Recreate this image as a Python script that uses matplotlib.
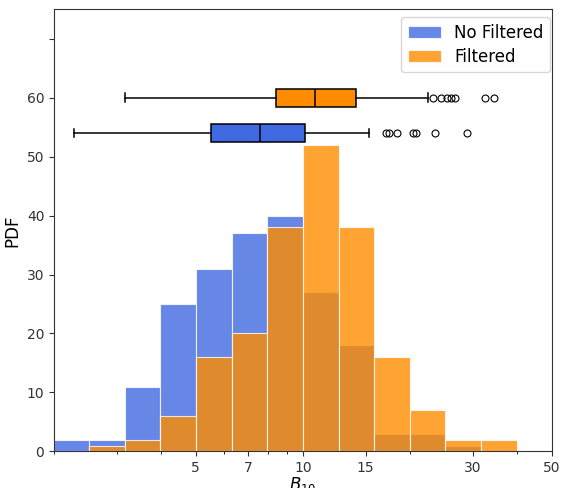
import numpy as np
import matplotlib
matplotlib.use("Agg")
import matplotlib.pyplot as plt
from matplotlib.ticker import NullFormatter

# log-spaced bin edges (0.1 dex)
bin_edges = [2.0, 2.51, 3.16, 3.98, 5.01, 6.31, 7.94, 10.0, 12.59, 15.85, 19.95, 25.12, 31.62, 39.81]
counts_nofilt = [2, 2, 11, 25, 31, 37, 40, 27, 18, 3, 3, 1, 0]
counts_filt = [0, 1, 2, 6, 16, 20, 38, 52, 38, 16, 7, 2, 2]

# box plot summaries
box_nofilt = dict(whislo=2.28, q1=5.52, med=7.55, q3=10.13, whishi=15.3,
                  fliers=[17.1, 17.4, 18.35, 20.4, 20.8, 23.5, 28.9])
box_filt = dict(whislo=3.16, q1=8.42, med=10.83, q3=14.05, whishi=22.4,
                fliers=[23.2, 24.4, 25.3, 25.96, 26.8, 32.4, 34.4])
box_pos = [54, 60]

xticks = [5, 7, 10, 15, 30, 50]
yticks = [0, 10, 20, 30, 40, 50, 60, 70]
ytick_labels = ['0', '10', '20', '30', '40', '50', '60', '']

fig = plt.figure(figsize=(5.69, 4.88), dpi=100)
ax = fig.add_axes([0.095, 0.075, 0.875, 0.906])

mids = np.sqrt(np.array(bin_edges[:-1]) * np.array(bin_edges[1:]))
ax.hist(mids, bins=bin_edges, weights=counts_nofilt, color='royalblue', alpha=0.8,
        edgecolor='white', linewidth=0.8, label='No Filtered')
ax.hist(mids, bins=bin_edges, weights=counts_filt, color='darkorange', alpha=0.8,
        edgecolor='white', linewidth=0.8, label='Filtered')

bp = ax.bxp([box_nofilt, box_filt], positions=box_pos, widths=3, vert=False,
            patch_artist=True, manage_ticks=False,
            medianprops=dict(color='black', linewidth=1.1),
            whiskerprops=dict(color='black', linewidth=1.1),
            capprops=dict(color='black', linewidth=1.1),
            flierprops=dict(marker='o', markerfacecolor='none', markeredgecolor='black',
                            markersize=5, markeredgewidth=0.8))
for patch, c in zip(bp['boxes'], ['royalblue', 'darkorange']):
    patch.set_facecolor(c)
    patch.set_edgecolor('black')
    patch.set_linewidth(1.1)

ax.set_xscale('log')
ax.set_xlim(2, 50)
ax.set_ylim(0, 75)
ax.set_xticks(xticks)
ax.set_xticklabels([str(t) for t in xticks])
ax.xaxis.set_minor_formatter(NullFormatter())
ax.set_yticks(yticks)
ax.set_yticklabels(ytick_labels)
ax.tick_params(labelsize=10, colors='#333333')
for s in ax.spines.values():
    s.set_color('#333333')

ax.set_xlabel('$B_{10}$', fontsize=12, labelpad=0)
ax.set_ylabel('PDF', fontsize=12)
ax.legend(loc='upper right', bbox_to_anchor=(1.0, 0.986), borderaxespad=0.1,
          fontsize=12, labelspacing=0.35)

fig.savefig('out.png', dpi=100)
